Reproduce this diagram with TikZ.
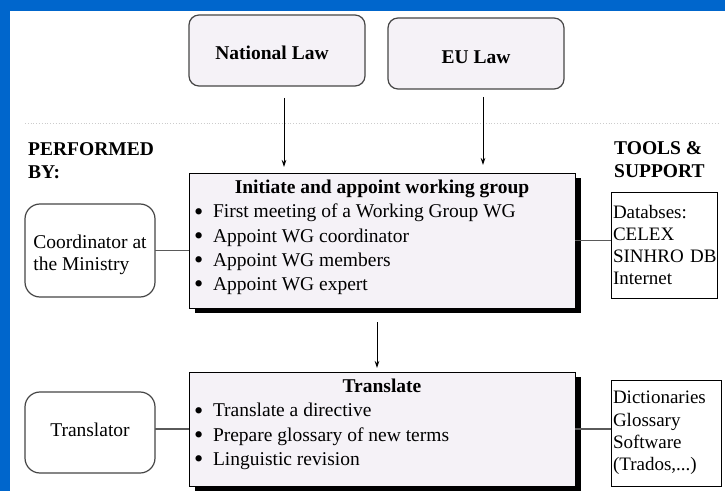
\documentclass[tikz,border=0pt]{standalone}
\usepackage{fontspec}
\usepackage{graphicx}
\setmainfont{Liberation Serif}
\usetikzlibrary{shadows,arrows.meta,calc}
\definecolor{blueframe}{RGB}{0,102,204}
\definecolor{lav}{RGB}{245,242,247}
\definecolor{rborder}{RGB}{70,70,70}
\definecolor{conncol}{RGB}{90,90,90}
\newcommand\mybul{\makebox[19bp][l]{\raisebox{-2.2bp}{\scalebox{1.35}{\textbullet}}}}
\begin{document}
\begin{tikzpicture}[x=1bp,y=-1bp,
  lawbox/.style={draw=rborder, line width=1.2bp, fill=lav, rounded corners=10bp,
    anchor=north west, inner sep=0pt, outer sep=0pt,
    minimum width=176bp, minimum height=71bp,
    font=\fontsize{19.5bp}{22bp}\selectfont\bfseries},
  rolebox/.style={draw=rborder, line width=1.2bp, fill=white, rounded corners=15bp,
    anchor=north west, inner sep=0pt, outer sep=0pt, align=left,
    minimum width=130bp, font=\fontsize{19.5bp}{22bp}\selectfont},
  mainbox/.style={draw=black, line width=0.8bp, fill=lav, anchor=north west,
    inner xsep=5bp, inner ysep=7bp, outer sep=0pt,
    general shadow={fill=black, shadow xshift=6bp, shadow yshift=-5bp},
    font=\fontsize{19.5bp}{24.3bp}\selectfont},
  toolbox/.style={draw=black, line width=0.8bp, fill=white, anchor=north west,
    inner xsep=2bp, inner ysep=0pt, outer sep=0pt, align=left,
    minimum height=106bp, font=\fontsize{19bp}{22.3bp}\selectfont},
  headtext/.style={anchor=north west, inner sep=0pt, align=left,
    font=\fontsize{19.5bp}{23bp}\selectfont\bfseries},
  arr/.style={draw=black, line width=0.8bp, -{Stealth[length=7bp,width=4.5bp]}},
  conn/.style={draw=conncol, line width=1.2bp}
]
\useasboundingbox (0,0) rectangle (725,491);
\fill[white] (0,0) rectangle (725,491);
\fill[blueframe] (0,0) rectangle (725,11);
\fill[blueframe] (0,0) rectangle (10,491);

% separator line
\draw[gray!40, dotted, line width=0.8bp] (25,123) -- (720,123);

% headings
\node[headtext] (perf) at (28,142) {PERFORMED\\BY:};
\node[headtext] (tools) at (614,141) {TOOLS \&\\SUPPORT};

% law boxes
\node[lawbox] (nat) at (189,15) {\rule{0pt}{19bp}National Law\hspace*{10bp}};
\node[lawbox] (eu) at (388,18) {\rule{0pt}{20bp}EU Law};

% main process boxes
\node[mainbox] (m1) at (189,173) {\parbox[c][121bp][t]{376bp}{%
{\centering\bfseries Initiate and appoint working group\par}%
\mybul First meeting of a Working Group WG\par
\mybul Appoint WG coordinator\par
\mybul Appoint WG members\par
\mybul Appoint WG expert}};
\node[mainbox] (m2) at (189,372) {\parbox[c][100bp][t]{376bp}{%
{\centering\bfseries Translate\par}%
\mybul Translate a directive\par
\mybul Prepare glossary of new terms\par
\mybul Linguistic revision}};

% performers
\node[rolebox, minimum height=93bp] (co) at (25,204) {\rule{0pt}{23bp}Coordinator at\\the Ministry};
\node[rolebox, minimum height=81bp] (tr) at (25,392) {\rule[-6bp]{0pt}{6bp}Translator};

% tools
\node[toolbox, text width=102bp] (t1) at (611,192) {Databses:\\CELEX\\SINHRO~DB\\Internet};
\node[toolbox, text width=106bp] (t2) at (611,380) {Dictionaries\\Glossary\\Software\\(Trados,...)};

% arrows
\draw[arr, shorten <=12bp, shorten >=6bp] ([xshift=7bp]nat.south) -- ([xshift=7bp]nat.south |- m1.north);
\draw[arr, shorten <=8bp, shorten >=8bp] ([xshift=7bp]eu.south) -- ([xshift=7bp]eu.south |- m1.north);
\draw[arr, shorten <=14bp, shorten >=4bp] ([xshift=-5bp]m1.south) -- ([xshift=-5bp]m1.south |- m2.north);

% connectors
\draw[conn] (co.east) -- (co.east -| m1.west);
\draw[conn] (m1.east) -- (m1.east -| t1.west);
\draw[conn] (m2.west -| tr.east) -- (m2.west);
\draw[conn] (m2.east) -- (m2.east -| t2.west);
\end{tikzpicture}
\end{document}
